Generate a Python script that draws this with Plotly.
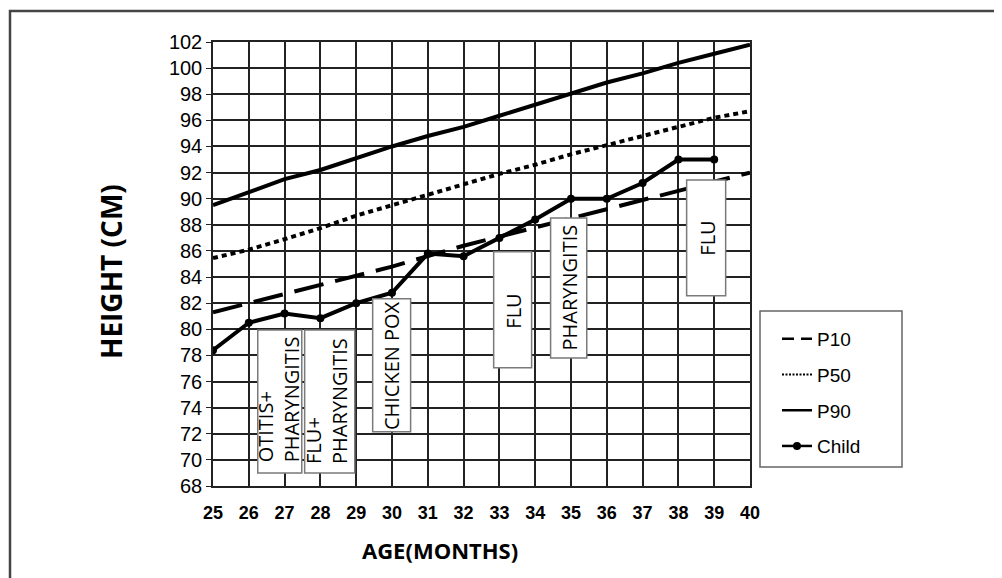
import plotly.graph_objects as go

# ---- data ----
months = list(range(25, 41))
p10 = [81.3, 82.0, 82.7, 83.4, 84.1, 84.8, 85.6, 86.4, 87.1, 87.8, 88.5, 89.2, 89.9, 90.6, 91.3, 92.0]
p50 = [85.45, 86.1, 86.9, 87.75, 88.7, 89.5, 90.25, 91.1, 91.9, 92.6, 93.4, 94.1, 94.8, 95.5, 96.2, 96.7]
p90 = [89.5, 90.5, 91.5, 92.2, 93.1, 94.0, 94.8, 95.5, 96.35, 97.2, 98.0, 98.9, 99.6, 100.4, 101.1, 101.8]
child_months = list(range(25, 40))
child = [78.4, 80.5, 81.2, 80.85, 82.0, 82.8, 85.8, 85.6, 87.0, 88.4, 90.0, 90.0, 91.2, 93.0, 93.0]

illness_labels = ["OTITIS+<br>PHARYNGITIS", "FLU+<br>PHARYNGITIS", "CHICKEN POX",
                  "FLU", "PHARYNGITIS", "FLU"]
# box extents (x0, x1, y0, y1) in data units and text centres
illness_boxes = [(26.25, 27.48, 69.0, 79.95), (27.56, 28.96, 69.0, 79.95),
                 (29.46, 30.52, 72.15, 82.34), (32.84, 33.9, 77.05, 85.93),
                 (34.43, 35.44, 77.8, 88.53), (38.23, 39.32, 82.56, 91.44)]
illness_text_pos = [(26.83, 74.6), (28.17, 74.55), (29.99, 77.23),
                    (33.37, 81.4), (34.97, 83.2), (38.82, 87.0)]

# page offset (browser body margin) and plot-area pixel geometry
OFF = 8
PX0, PX1, PY0, PY1 = 213, 750, 42, 486
W, H = 1002 - OFF, 578 - OFF


def px(xs):
    return (xs - PX0) / (PX1 - PX0)


def py(ys):
    return 1 - (ys - PY0) / (PY1 - PY0)


fig = go.Figure()
lw = 4
fig.add_trace(go.Scatter(x=months, y=p10, mode="lines", name="P10", showlegend=False,
                         line=dict(color="black", width=lw, dash="30px,12px")))
fig.add_trace(go.Scatter(x=months, y=p50, mode="lines", name="P50", showlegend=False,
                         line=dict(color="black", width=lw, dash="5px,4px")))
fig.add_trace(go.Scatter(x=months, y=p90, mode="lines", name="P90", showlegend=False,
                         line=dict(color="black", width=lw)))
fig.add_trace(go.Scatter(x=child_months, y=child, mode="lines+markers", name="Child", showlegend=False,
                         line=dict(color="black", width=lw),
                         marker=dict(color="black", size=8)))
# legend-only entries (thin symbols as in the reference legend)
leg_styles = [("P10", dict(color="black", width=2.5, dash="12px,7px"), None),
              ("P50", dict(color="black", width=2, dash="2px,1.5px"), None),
              ("P90", dict(color="black", width=2.5), None),
              ("Child", dict(color="black", width=2.5), dict(color="black", size=8))]
for i, (nm, ln, mk) in enumerate(leg_styles):
    fig.add_trace(go.Scatter(x=[None], y=[None], name=nm, legendgroup=str(i),
                             mode="lines+markers" if mk else "lines",
                             line=ln, marker=mk if mk else None))

shapes = []
for (x0, x1, y0, y1) in illness_boxes:
    shapes.append(dict(type="rect", xref="x", yref="y", x0=x0, x1=x1, y0=y0, y1=y1,
                       fillcolor="white", line=dict(color="#7a7a7a", width=1.5), layer="above"))
# legend box
shapes.append(dict(type="rect", xref="paper", yref="paper",
                   x0=px(760), x1=px(902), y0=py(467), y1=py(311),
                   fillcolor="rgba(0,0,0,0)", line=dict(color="#666", width=1.5), layer="above"))
# outer frame (left and top)
fx = px(10)
fy = py(11)
shapes.append(dict(type="path", xref="paper", yref="paper",
                   path=f"M {fx} -0.5 L {fx} {fy} L 2 {fy}",
                   line=dict(color="#444", width=2.5)))

annotations = []
for txt, (tx, ty) in zip(illness_labels, illness_text_pos):
    annotations.append(dict(x=tx, y=ty, xref="x", yref="y", text=txt, textangle=-90,
                            showarrow=False, align="left", xanchor="center", yanchor="middle",
                            font=dict(family="Open Sans", size=20, color="black")))
annotations.append(dict(x=px(111), y=py(272), xref="paper", yref="paper",
                        xanchor="center", yanchor="middle",
                        text="<b>HEIGHT (CM)</b>", textangle=-90, showarrow=False,
                        font=dict(family="Open Sans", size=28, color="black")))
annotations.append(dict(x=px(440), y=py(550), xref="paper", yref="paper",
                        xanchor="center", yanchor="middle",
                        text="<b>AGE(MONTHS)</b>", showarrow=False,
                        font=dict(family="Open Sans", size=22, color="black")))

fig.update_layout(
    width=W, height=H,
    margin=dict(l=PX0 - OFF, r=W - (PX1 - OFF), t=PY0 - OFF, b=H - (PY1 - OFF)),
    paper_bgcolor="white", plot_bgcolor="white",
    showlegend=True,
    legend=dict(x=px(777), y=py(320), xanchor="left", yanchor="top",
                bgcolor="rgba(0,0,0,0)", borderwidth=0, tracegroupgap=8,
                traceorder="grouped",
                font=dict(family="Liberation Sans", size=19, color="black")),
    shapes=shapes, annotations=annotations,
)
fig.update_xaxes(range=[25, 40], tickvals=months, ticktext=[str(m) for m in months],
                 showgrid=True, gridcolor="#222", gridwidth=1.5,
                 showline=True, linecolor="#222", linewidth=1.5, mirror=True,
                 ticks="", zeroline=False, ticklabelstandoff=10,
                 tickfont=dict(family="Liberation Sans", size=18, color="black", weight="bold"))
fig.update_yaxes(range=[68, 102], dtick=2, tick0=68,
                 showgrid=True, gridcolor="#222", gridwidth=1.5,
                 showline=True, linecolor="#222", linewidth=1.5, mirror=True,
                 ticks="outside", ticklen=5, tickcolor="#222", zeroline=False,
                 tickfont=dict(family="Liberation Sans", size=20, color="black"))

fig.write_html("out.html")
